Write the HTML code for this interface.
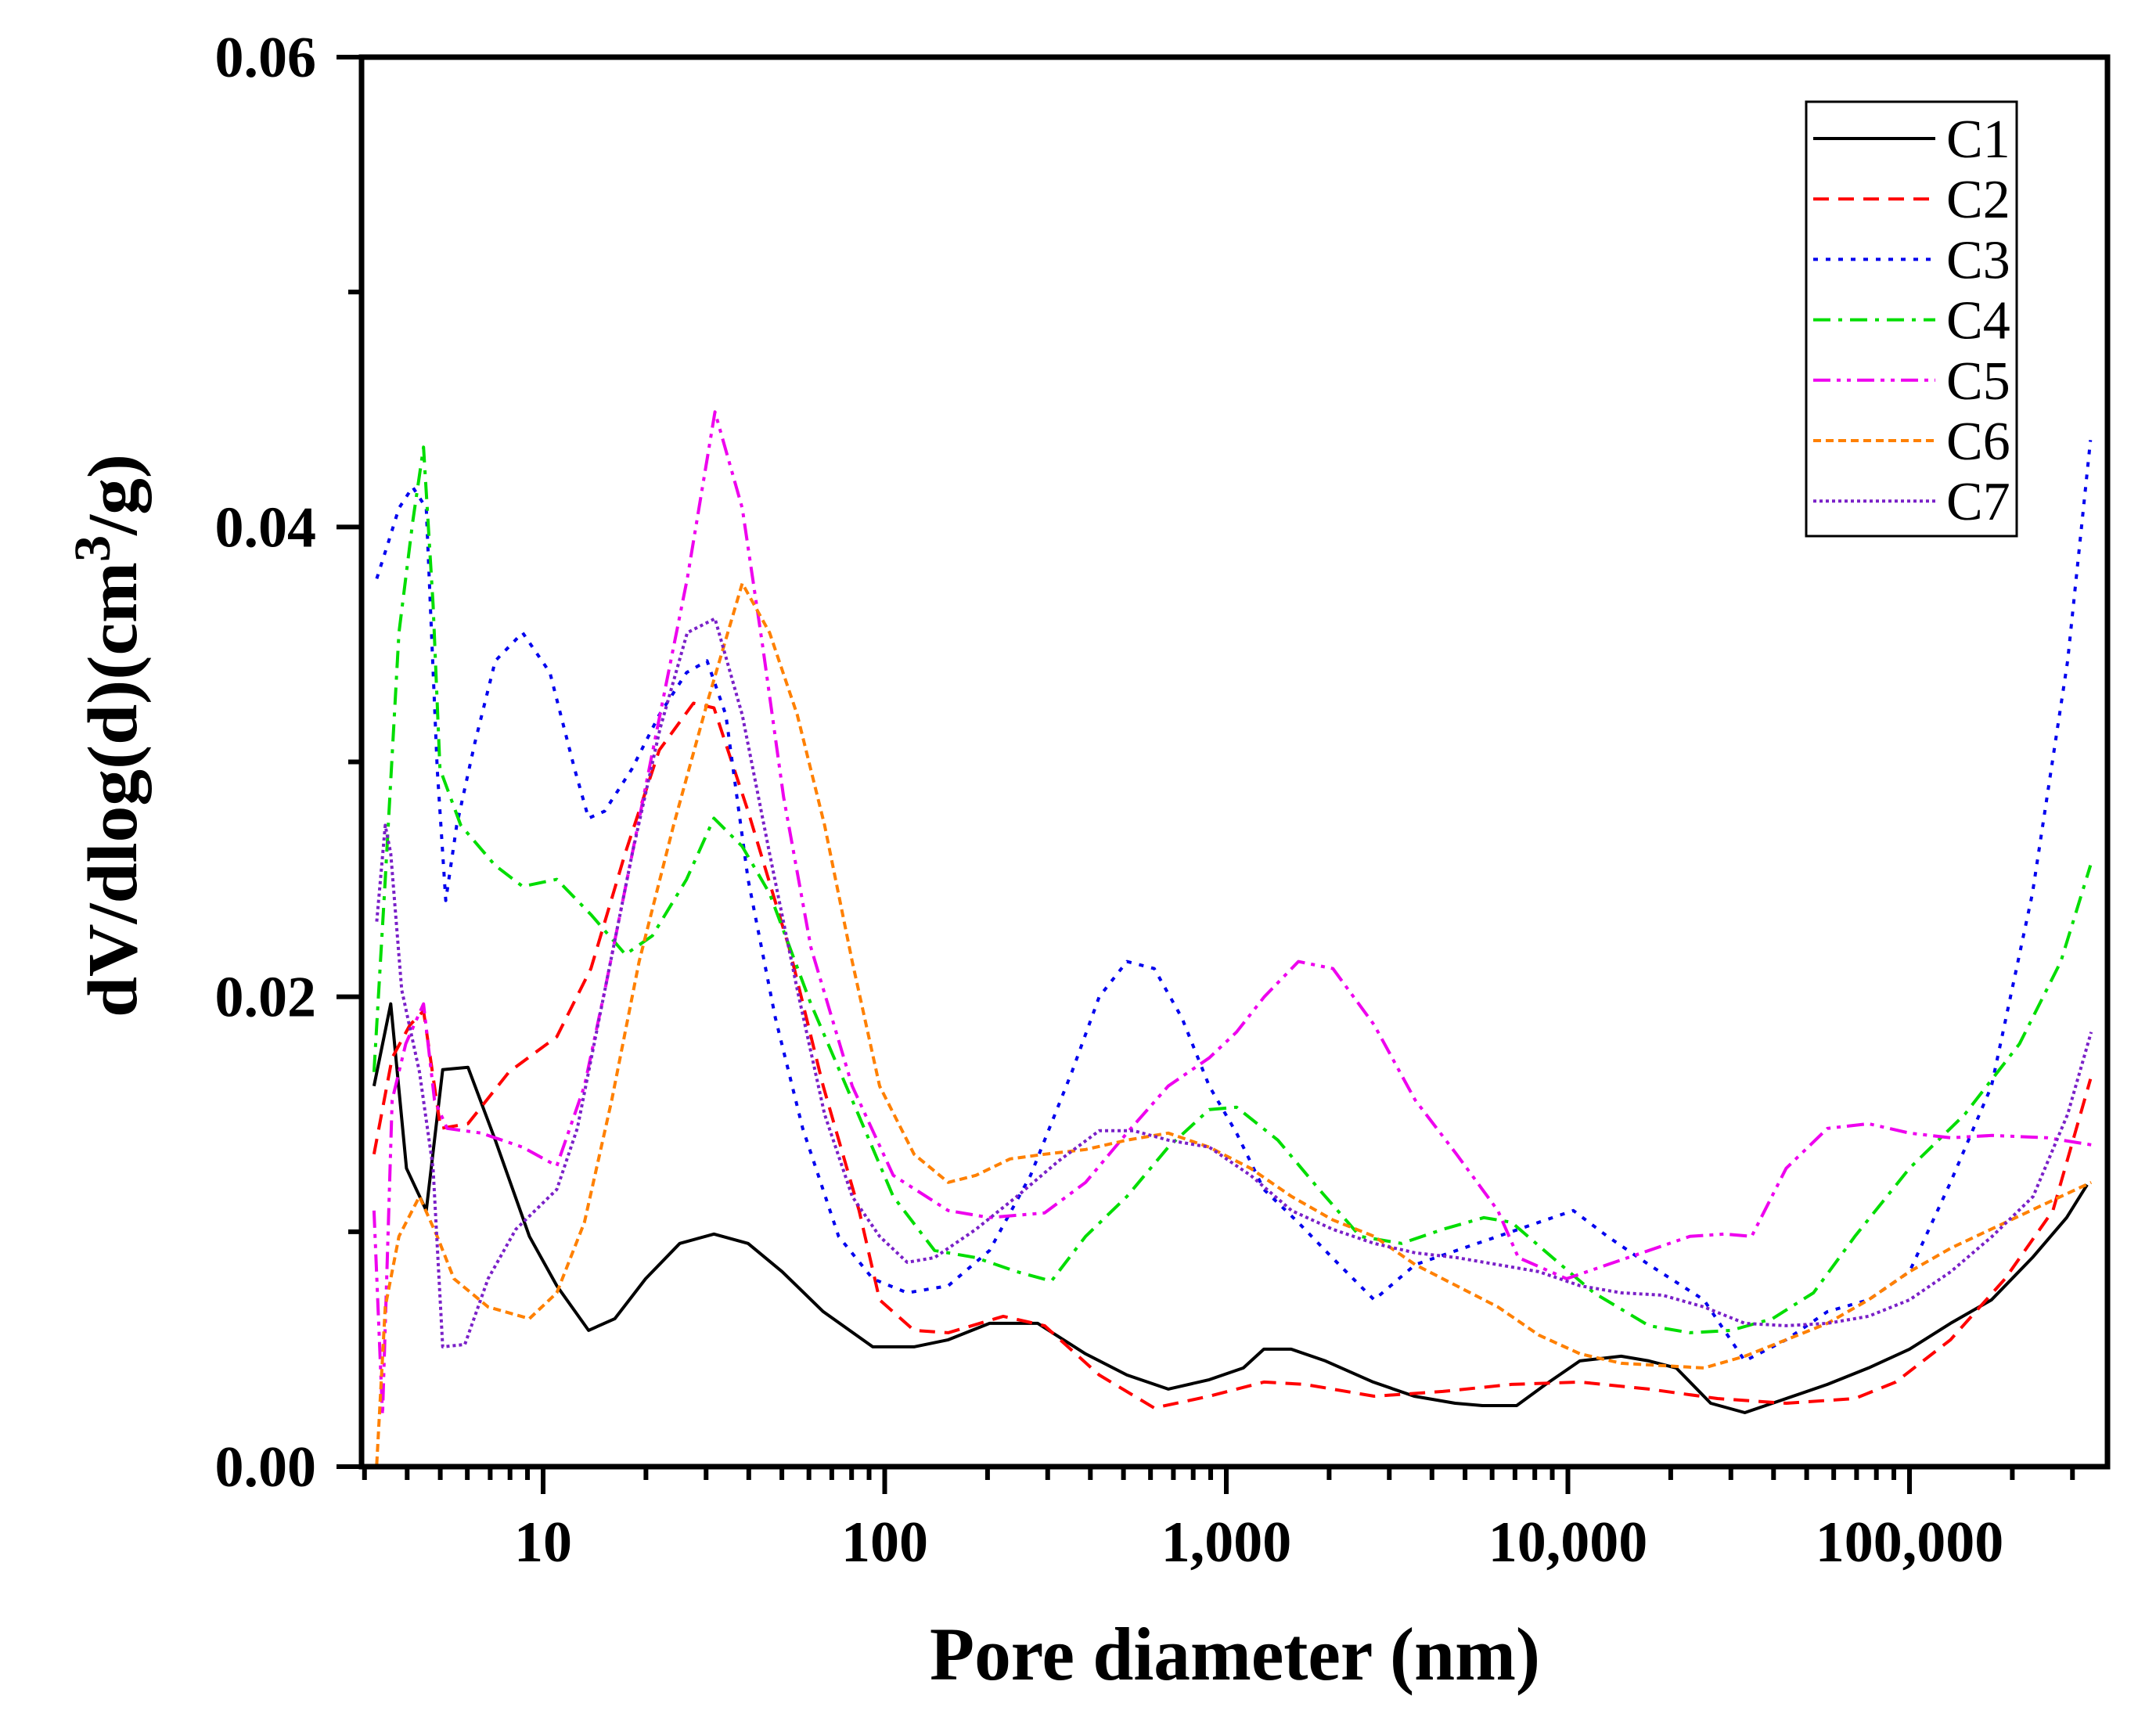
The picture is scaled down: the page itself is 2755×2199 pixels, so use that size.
<!DOCTYPE html>
<html><head><meta charset="utf-8"><style>
html,body{margin:0;padding:0;background:#fff;}
svg{display:block;}
text{font-family:"Liberation Serif",serif;}
</style></head><body>
<svg id="chart" width="2755" height="2199" viewBox="0 0 2755 2199" xmlns="http://www.w3.org/2000/svg">
<rect x="0" y="0" width="2755" height="2199" fill="#fff"/>
<g id="series"></g>
<g id="axes"></g>
<g id="legend"></g>
<text x="1578" y="2146" font-size="96" font-weight="bold" text-anchor="middle" textLength="780" lengthAdjust="spacingAndGlyphs">Pore diameter (nm)</text>
<text transform="translate(174,940) rotate(-90)" font-size="90" font-weight="bold" text-anchor="middle" textLength="720" lengthAdjust="spacingAndGlyphs">dV/dlog(d)(cm<tspan font-size="66" dy="-34">3</tspan><tspan dy="34">/g)</tspan></text>
</svg>
<script>
// ---- data (x = log10 of pore diameter in nm, y = dV/dlog(d) in cm3/g) ----
const seriesNames = ["C1","C2","C3","C4","C5","C6","C7"];
const xTickValues = [10,100,1000,10000,100000];
const xTickLabels = ["10","100","1,000","10,000","100,000"];
const yTickValues = [0,0.02,0.04,0.06];
const yTickLabels = ["0.00","0.02","0.04","0.06"];

const c1LogD = [0.505,0.554,0.60,0.658,0.706,0.78,0.86,0.96,1.04,1.133,1.21,1.30,1.40,1.50,1.60,1.70,1.82,1.965,2.086,2.186,2.307,2.448,2.588,2.709,2.83,2.95,3.05,3.11,3.19,3.29,3.43,3.55,3.67,3.75,3.85,3.935,4.035,4.156,4.237,4.317,4.418,4.518,4.639,4.76,4.88,5.0,5.12,5.24,5.36,5.46,5.52];
const c1Val = [.0162,.0197,.0127,.0109,.0169,.0170,.0139,.0098,.0077,.0058,.0063,.0080,.0095,.0099,.0095,.0083,.0066,.0051,.0051,.0054,.0061,.0061,.0048,.0039,.0033,.0037,.0042,.0050,.0050,.0045,.0036,.0030,.0027,.0026,.0026,.0035,.0045,.0047,.0045,.0042,.0027,.0023,.0029,.0035,.0042,.0050,.0061,.0071,.0089,.0106,.0120];

const c2LogD = [0.505,0.558,0.61,0.65,0.70,0.78,0.90,1.04,1.14,1.24,1.34,1.44,1.50,1.60,1.72,1.82,1.925,1.985,2.086,2.186,2.347,2.468,2.628,2.789,2.95,3.11,3.23,3.433,3.634,3.835,4.036,4.237,4.438,4.639,4.84,4.96,5.12,5.28,5.42,5.53];
const c2Val = [.0133,.0174,.0188,.0194,.0144,.0146,.0168,.0183,.0212,.0261,.0305,.0325,.0323,.0279,.0221,.0162,.0109,.0071,.0058,.0057,.0064,.0060,.0039,.0025,.0030,.0036,.0035,.0030,.0032,.0035,.0036,.0033,.0029,.0027,.0029,.0036,.0054,.0080,.0109,.0165];

const c3LogD = [0.513,0.546,0.578,0.618,0.658,0.69,0.715,0.747,0.80,0.86,0.94,1.02,1.092,1.133,1.18,1.26,1.34,1.42,1.48,1.535,1.60,1.68,1.76,1.865,1.965,2.066,2.186,2.307,2.427,2.548,2.628,2.709,2.789,2.87,2.95,3.03,3.11,3.21,3.31,3.433,3.553,3.674,3.795,3.915,4.016,4.116,4.237,4.398,4.518,4.639,4.76,4.88,5.0,5.12,5.24,5.36,5.463,5.53];
const c3Val = [.0378,.0393,.0408,.0417,.0408,.0297,.0241,.0273,.0308,.0343,.0355,.0338,.0297,.0276,.0279,.0297,.0320,.0338,.0343,.0320,.0250,.0191,.0144,.0098,.0080,.0074,.0077,.0092,.0124,.0168,.0200,.0215,.0212,.0191,.0162,.0142,.0118,.0104,.0089,.0071,.0086,.0092,.0098,.0104,.0109,.0098,.0086,.0071,.0045,.0054,.0066,.0071,.0083,.0121,.0162,.0244,.0343,.0437];

const c4LogD = [0.505,0.538,0.578,0.618,0.65,0.678,0.698,0.759,0.859,0.94,1.04,1.14,1.241,1.32,1.42,1.50,1.583,1.663,1.784,1.905,2.025,2.146,2.267,2.387,2.488,2.588,2.709,2.83,2.95,3.03,3.151,3.272,3.392,3.513,3.634,3.754,3.835,3.955,4.076,4.237,4.357,4.478,4.599,4.719,4.84,5.0,5.162,5.322,5.443,5.53];
const c4Val = [.0168,.0250,.0355,.0402,.0434,.0367,.0297,.0273,.0256,.0247,.0250,.0235,.0218,.0226,.0250,.0276,.0264,.0244,.0197,.0156,.0115,.0092,.0089,.0083,.0079,.0098,.0115,.0136,.0152,.0153,.0139,.0118,.0098,.0095,.0101,.0106,.0104,.0089,.0074,.0060,.0057,.0058,.0063,.0074,.0098,.0127,.0150,.0180,.0215,.0256];

const c5LogD = [0.505,0.53,0.558,0.598,0.65,0.682,0.719,0.819,0.94,1.04,1.121,1.181,1.261,1.342,1.422,1.503,1.583,1.643,1.704,1.784,1.905,2.025,2.186,2.307,2.468,2.588,2.709,2.83,2.95,3.03,3.111,3.211,3.312,3.433,3.553,3.674,3.795,3.855,3.996,4.116,4.237,4.357,4.458,4.538,4.639,4.76,4.88,5.0,5.121,5.242,5.403,5.532];
const c5Val = [.0109,.0022,.0156,.0180,.0197,.0156,.0144,.0142,.0136,.0128,.0162,.0203,.0261,.0320,.0378,.0449,.0408,.0349,.0285,.0221,.0162,.0124,.0109,.0106,.0108,.0121,.0142,.0162,.0174,.0185,.0200,.0215,.0212,.0188,.0156,.0133,.0109,.0089,.0080,.0086,.0092,.0098,.0099,.0098,.0127,.0144,.0146,.0142,.0140,.0141,.0140,.0137];

const c6LogD = [0.513,0.538,0.578,0.638,0.69,0.739,0.839,0.96,1.04,1.121,1.201,1.281,1.382,1.482,1.583,1.663,1.744,1.824,1.905,1.985,2.086,2.186,2.267,2.367,2.468,2.588,2.709,2.83,2.95,3.071,3.191,3.312,3.433,3.553,3.674,3.795,3.915,4.036,4.156,4.277,4.398,4.518,4.639,4.76,4.88,5.0,5.121,5.282,5.443,5.532];
const c6Val = [.0001,.0068,.0098,.0115,.0098,.0080,.0068,.0063,.0074,.0104,.0156,.0215,.0273,.0326,.0376,.0355,.0320,.0273,.0215,.0162,.0133,.0121,.0124,.0131,.0133,.0135,.0139,.0142,.0136,.0127,.0115,.0105,.0098,.0086,.0077,.0068,.0056,.0048,.0044,.0043,.0042,.0047,.0054,.0061,.0071,.0083,.0093,.0104,.0115,.0121];

const c7LogD = [0.513,0.538,0.554,0.586,0.638,0.678,0.706,0.771,0.839,0.92,1.04,1.10,1.181,1.261,1.342,1.422,1.503,1.583,1.663,1.744,1.824,1.905,1.985,2.066,2.146,2.267,2.387,2.508,2.628,2.729,2.83,2.95,3.071,3.191,3.312,3.433,3.553,3.674,3.795,3.915,4.036,4.156,4.277,4.398,4.518,4.639,4.76,4.88,5.0,5.121,5.242,5.362,5.463,5.532];
const c7Val = [.0232,.0273,.0261,.0203,.0168,.0127,.0051,.0052,.0080,.0101,.0118,.0144,.0203,.0261,.0314,.0355,.0361,.0320,.0261,.0203,.0150,.0115,.0098,.0087,.0089,.0101,.0115,.0130,.0143,.0143,.0139,.0136,.0124,.0109,.0101,.0095,.0091,.0089,.0086,.0083,.0077,.0074,.0073,.0068,.0061,.0060,.0061,.0064,.0071,.0083,.0098,.0115,.0150,.0185];

const seriesLogD = [c1LogD,c2LogD,c3LogD,c4LogD,c5LogD,c6LogD,c7LogD];
const seriesVal = [c1Val,c2Val,c3Val,c4Val,c5Val,c6Val,c7Val];

// ---- styles / layout ----
const colors = ["#000000","#ff0000","#0000ee","#00dd00","#ee00ee","#ff8000","#7a20c8"];
const dashes = ["", "20 12", "6 10", "22 10 5 10", "22 8 5 8 5 8", "10 6", "4 4"];
const L=462, R=2693, T=73, B=1874;
const xLog0=1, xPix0=694, decade=436.5;
const yMax=0.06;
function xs(logd){ return xPix0 + (logd - xLog0)*decade; }
function ys(v){ return B - v/yMax*(B-T); }
const NS="http://www.w3.org/2000/svg";
function mk(tag, attrs, parent){ const e=document.createElementNS(NS,tag); for(const k in attrs) e.setAttribute(k,attrs[k]); parent.appendChild(e); return e; }

const gS=document.getElementById('series');
const defs=mk('defs',{},gS);
const cp=mk('clipPath',{id:'plotclip'},defs);
mk('rect',{x:L,y:T,width:R-L,height:B-T},cp);
seriesNames.forEach((n,i)=>{
  const pts=seriesLogD[i].map((d,j)=>xs(d).toFixed(1)+','+ys(seriesVal[i][j]).toFixed(1)).join(' ');
  const p=mk('polyline',{points:pts,fill:'none',stroke:colors[i],'stroke-width':4,'stroke-dasharray':dashes[i],'stroke-linejoin':'round','clip-path':'url(#plotclip)'},gS);
  
  
});

const gA=document.getElementById('axes');
const frame=mk('rect',{x:L,y:T,width:R-L,height:B-T,fill:'none',stroke:'#000','stroke-width':7},gA);


for(let k=0;k<=6;k++){
  const v=k*0.01, y=ys(v), major=(k%2===0);
  const t=mk('line',{x1:L,x2:L-(major?32:17),y1:y,y2:y,stroke:'#000','stroke-width':6},gA);
  
  
}
yTickValues.forEach((v,i)=>{
  const t=mk('text',{x:404,y:ys(v)+25,'font-size':74,'font-weight':'bold','text-anchor':'end'},gA);
  t.textContent=yTickLabels[i];
  
  
});
for(let e=0;e<=5;e++){
  for(let m=1;m<=9;m++){
    const ld=e+Math.log10(m), x=xs(ld);
    if(x<L-1||x>R+1) continue;
    const major=(m===1);
    const t=mk('line',{x1:x,x2:x,y1:B,y2:B+(major?35:17),stroke:'#000','stroke-width':6},gA);
    
    
  }
}
xTickValues.forEach((v,i)=>{
  const t=mk('text',{x:xs(Math.log10(v)),y:1995,'font-size':74,'font-weight':'bold','text-anchor':'middle'},gA);
  t.textContent=xTickLabels[i];
  
  
});

const gL=document.getElementById('legend');
const lb=mk('rect',{x:2308,y:130,width:269,height:555,fill:'#fff',stroke:'#000','stroke-width':3},gL);


seriesNames.forEach((n,i)=>{
  const y=177+i*77.2;
  const ln=mk('line',{x1:2317,x2:2473,y1:y,y2:y,stroke:colors[i],'stroke-width':4,'stroke-dasharray':dashes[i]},gL);
  
  
  const tx=mk('text',{x:2487,y:y+24,'font-size':70},gL);
  tx.textContent=n;
  
  
});
</script>
</body></html>
